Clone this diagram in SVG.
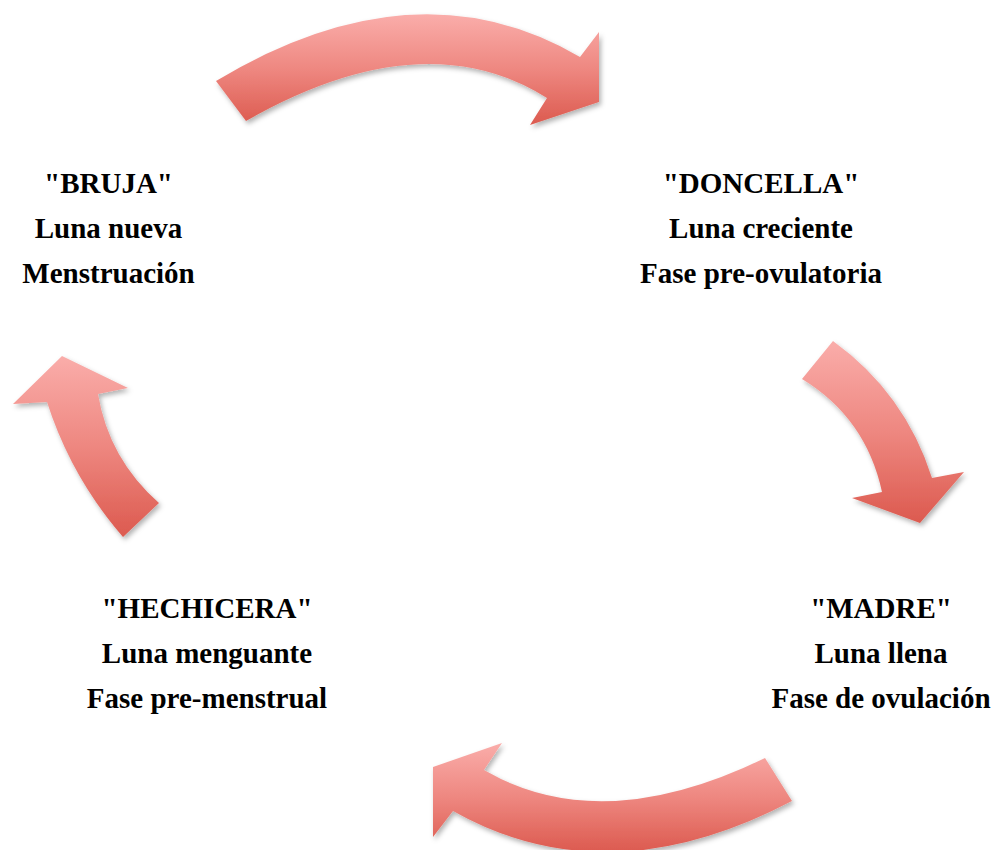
<svg xmlns="http://www.w3.org/2000/svg" width="994" height="850" viewBox="0 0 994 850">
<style>
.lbl{font-family:"Liberation Serif","Times New Roman",serif;font-weight:bold;font-size:29px;fill:#000;text-anchor:middle}
.arr{fill:url(#g);filter:url(#sh)}
</style>
<defs>
<linearGradient id="g" x1="0" y1="0" x2="0" y2="1">
<stop offset="0" stop-color="#FAADAA"/>
<stop offset="0.5" stop-color="#EE8780"/>
<stop offset="1" stop-color="#DC5A4F"/>
</linearGradient>
<filter id="sh" x="-20%" y="-20%" width="140%" height="140%">
<feDropShadow dx="2" dy="3" stdDeviation="2.5" flood-color="#000" flood-opacity="0.3"/>
</filter>
</defs>
<rect width="994" height="850" fill="#fff"/>
<g id="connectors">
<path class="arr" d="M 216 81 Q 416 -39 580 57 L 599 32 L 599 102 L 530 125 L 547 98 Q 423 20 246 121 Z"/>
<path class="arr" d="M 833 341 Q 905 393 932 478 L 964 472 L 920 523 L 852 498 L 882 492 Q 866 418 802 379 Z"/>
<path class="arr" d="M 765 758 L 792 801 Q 607 898 453 811 L 433 837 L 433 767 L 502 743 L 484 770 Q 601 838 765 758 Z"/>
<path class="arr" d="M 159 503 L 123 537 Q 71 477 47 402 L 13 404 L 62 356 L 128 388 L 98 394 Q 109 459 159 503 Z"/>
</g>
<g id="bruja">
<text class="lbl" x="108.5" y="193">"BRUJA"</text>
<text class="lbl" x="108.5" y="238">Luna nueva</text>
<text class="lbl" x="108.5" y="283">Menstruación</text>
</g>
<g id="doncella">
<text class="lbl" x="761" y="193">"DONCELLA"</text>
<text class="lbl" x="761" y="238">Luna creciente</text>
<text class="lbl" x="761" y="283">Fase pre-ovulatoria</text>
</g>
<g id="madre">
<text class="lbl" x="881" y="618">"MADRE"</text>
<text class="lbl" x="881" y="663">Luna llena</text>
<text class="lbl" x="881" y="708">Fase de ovulación</text>
</g>
<g id="hechicera">
<text class="lbl" x="207" y="618">"HECHICERA"</text>
<text class="lbl" x="207" y="663">Luna menguante</text>
<text class="lbl" x="207" y="708">Fase pre-menstrual</text>
</g>
</svg>
